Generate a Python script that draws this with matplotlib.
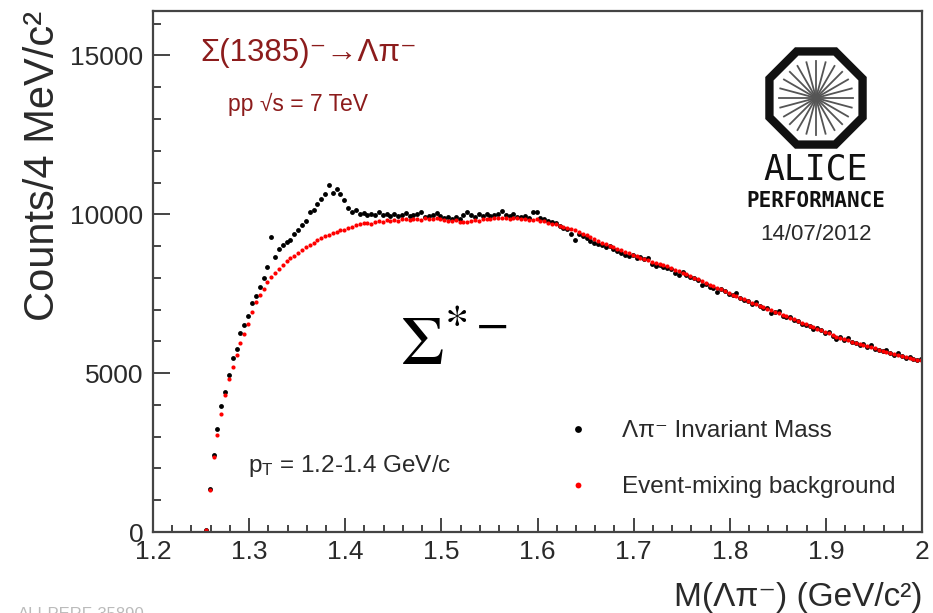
import numpy as np
import matplotlib
matplotlib.use('Agg')
import matplotlib.pyplot as plt
from matplotlib.patches import RegularPolygon
from matplotlib.ticker import MultipleLocator, FuncFormatter

plt.rcParams['font.family'] = ['Liberation Sans', 'DejaVu Sans']
plt.rcParams['mathtext.fontset'] = 'custom'
plt.rcParams['mathtext.rm'] = 'Liberation Sans'
plt.rcParams['mathtext.it'] = 'Liberation Sans:italic'

# histogram binning (4 MeV bins)
first_bin = 1.255
bin_width = 0.004

# Lambda-pi invariant mass (same event)
data_counts = [
    60, 1350, 2420, 3230, 3960, 4410, 4950, 5480, 5750, 6250,
    6510, 6800, 7220, 7420, 7700, 8010, 8340, 9290, 8660, 8900,
    9030, 9130, 9200, 9390, 9500, 9650, 9780, 10070, 10130, 10320,
    10490, 10630, 10910, 10670, 10810, 10650, 10440, 10210, 10070, 10130,
    10020, 10050, 9990, 10010, 9980, 10060, 9990, 10000, 9940, 10010,
    9960, 9980, 10050, 9940, 9990, 10020, 10060, 9930, 9960, 9990,
    10030, 9950, 9890, 9920, 9860, 9900, 9850, 9990, 10060, 9980,
    9900, 10020, 9960, 10010, 9950, 9980, 10020, 10100, 9970, 9950,
    10000, 9930, 9920, 9960, 9880, 10060, 10070, 9890, 9850, 9800,
    9760, 9730, 9640, 9580, 9530, 9370, 9180, 9380, 9330, 9260,
    9160, 9110, 9070, 9020, 8960, 9000, 8920, 8840, 8780, 8720,
    8690, 8720, 8640, 8660, 8590, 8610, 8430, 8370, 8400, 8350,
    8320, 8290, 8150, 8090, 8180, 8080, 8020, 7980, 7940, 7780,
    7800, 7720, 7680, 7540, 7640, 7580, 7490, 7450, 7520, 7380,
    7290, 7260, 7170, 7230, 7110, 7050, 7060, 6890, 6920, 6950,
    6810, 6760, 6780, 6680, 6640, 6560, 6520, 6480, 6400, 6410,
    6370, 6260, 6300, 6170, 6080, 6130, 6050, 6100, 5980, 5960,
    5880, 5930, 5820, 5880, 5760, 5730, 5690, 5740, 5620, 5560,
    5620, 5530, 5490, 5520, 5430, 5410, 5460,
]

# event-mixing background
bkg_counts = [
    60, 1320, 2370, 3050, 3710, 4310, 4830, 5200, 5570, 5950,
    6230, 6560, 6930, 7240, 7450, 7660, 7870, 8030, 8140, 8280,
    8420, 8520, 8610, 8700, 8790, 8870, 8970, 9040, 9100, 9190,
    9240, 9320, 9350, 9420, 9450, 9500, 9510, 9570, 9590, 9650,
    9680, 9720, 9730, 9710, 9770, 9790, 9760, 9810, 9800, 9830,
    9800, 9840, 9850, 9820, 9860, 9850, 9830, 9870, 9850, 9860,
    9880, 9840, 9830, 9800, 9780, 9830, 9770, 9760, 9750, 9790,
    9820, 9800, 9840, 9860, 9840, 9880, 9870, 9890, 9870, 9860,
    9890, 9870, 9850, 9840, 9820, 9820, 9860, 9800, 9780, 9740,
    9700, 9680, 9640, 9610, 9580, 9550, 9500, 9440, 9390, 9340,
    9280, 9230, 9160, 9110, 9060, 9000, 8960, 8920, 8870, 8820,
    8770, 8720, 8680, 8630, 8590, 8550, 8510, 8470, 8430, 8400,
    8360, 8310, 8260, 8210, 8160, 8110, 8060, 8010, 7960, 7900,
    7850, 7790, 7730, 7680, 7640, 7590, 7530, 7470, 7420, 7370,
    7320, 7260, 7220, 7170, 7120, 7080, 7030, 6980, 6930, 6880,
    6830, 6790, 6740, 6690, 6640, 6590, 6540, 6490, 6440, 6400,
    6350, 6300, 6250, 6200, 6150, 6110, 6070, 6030, 5990, 5960,
    5920, 5890, 5860, 5820, 5780, 5740, 5700, 5660, 5620, 5590,
    5560, 5530, 5500, 5470, 5440, 5420, 5400,
]

mass = first_bin + bin_width * np.arange(len(data_counts))

W, H = 933, 613
def fp(x, y):
    # pixel position -> figure fraction
    return x / W, 1 - y / H

fig = plt.figure(figsize=(W / 100, H / 100), dpi=100)
ax = fig.add_axes([153 / W, 1 - 532 / H, (922 - 153) / W, (532 - 11) / H])

ax.plot(mass, data_counts, 'o', color='black', ms=3.5, mew=0,
        label='\u039b\u03c0\u207b Invariant Mass')
ax.plot(mass, bkg_counts, 'o', color='red', ms=3.0, mew=0,
        label='Event-mixing background')

ax.set_xlim(1.2, 2.0)
ax.set_ylim(0, 16400)

ink = '#2a2a2a'
for s in ax.spines.values():
    s.set_color('#444444')
    s.set_linewidth(1.6)

ax.xaxis.set_major_locator(MultipleLocator(0.1))
ax.xaxis.set_minor_locator(MultipleLocator(0.02))
ax.yaxis.set_major_locator(MultipleLocator(5000))
ax.yaxis.set_minor_locator(MultipleLocator(1000))
ax.xaxis.set_major_formatter(FuncFormatter(lambda v, p: '%g' % round(v, 2)))
ax.yaxis.set_major_formatter(FuncFormatter(lambda v, p: '%d' % v))
ax.tick_params(axis='both', which='both', direction='in', color='#444444',
               labelcolor=ink, labelsize=19, width=1.4)
ax.tick_params(axis='x', which='major', length=10, pad=6)
ax.tick_params(axis='x', which='minor', length=5)
ax.tick_params(axis='y', which='major', length=12, pad=7)
ax.tick_params(axis='y', which='minor', length=6)

ax.set_xlabel('M(\u039b\u03c0\u207b) (GeV/c\u00b2)', loc='right', fontsize=24,
              color=ink, labelpad=13)
ax.set_ylabel('Counts/4 MeV/c\u00b2', loc='top', fontsize=30, color=ink,
              labelpad=5)

leg = ax.legend(loc='upper left', bbox_to_anchor=fp(554, 408),
                bbox_transform=fig.transFigure, frameon=False, fontsize=17.5,
                handlelength=1.0, handletextpad=1.3, labelspacing=1.4,
                borderpad=0, markerscale=1.4)
for t in leg.get_texts():
    t.set_color(ink)

dark_red = '#8c1c1c'
fig.text(*fp(200, 53), '\u03a3(1385)\u207b\u2192\u039b\u03c0\u207b', fontsize=22.5,
         color=dark_red, va='center', ha='left')
fig.text(*fp(228, 104), 'pp \u221as = 7 TeV', fontsize=16.5, color=dark_red,
         va='center', ha='left')
fig.text(*fp(248, 466), r'p$_{\mathrm{T}}$ = 1.2-1.4 GeV/c', fontsize=17.5,
         color=ink, va='center', ha='left')
fig.text(*fp(400, 365), r'$\Sigma^{*-}$', fontsize=50, color='black',
         va='baseline', ha='left', math_fontfamily='stix')

# ALICE performance logo
lx0, ly0, lsz = 760, 42, 112
lax = fig.add_axes([lx0 / W, 1 - (ly0 + lsz) / H, lsz / W, lsz / H])
lax.set_xlim(-1, 1)
lax.set_ylim(-1, 1)
lax.axis('off')
lax.add_patch(RegularPolygon((0, 0), numVertices=8, radius=0.9,
                             orientation=np.pi / 8, facecolor='white',
                             edgecolor='#111111', lw=6))
for a in np.linspace(0, np.pi, 12, endpoint=False):
    lax.plot([-0.66 * np.cos(a), 0.66 * np.cos(a)],
             [-0.66 * np.sin(a), 0.66 * np.sin(a)], color='#555555', lw=1.3)

fig.text(*fp(816, 169), 'ALICE', fontsize=25, family='DejaVu Sans Mono',
         color='#111111', ha='center', va='center')
fig.text(*fp(816, 201), 'PERFORMANCE', fontsize=15, family='DejaVu Sans Mono',
         weight='bold', color='#111111', ha='center', va='center')
fig.text(*fp(816, 234), '14/07/2012', fontsize=16, color=ink,
         ha='center', va='center')
fig.text(*fp(18, 607), 'ALI-PERF-35890', fontsize=12, color='#bbbbbb',
         ha='left', va='top')

fig.savefig('out.png', dpi=100)
